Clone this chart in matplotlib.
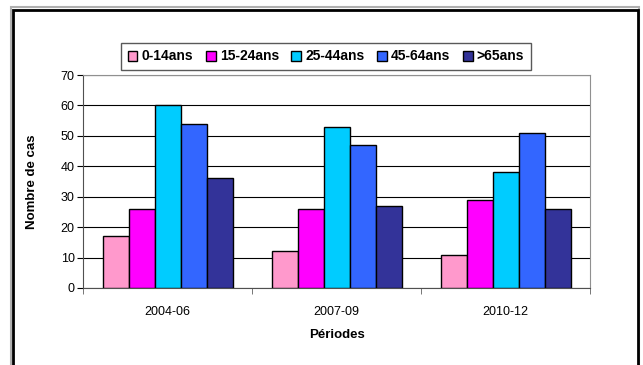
import numpy as np
import matplotlib.pyplot as plt
from matplotlib.patches import Rectangle

plt.rcParams['font.family'] = ['Liberation Sans', 'DejaVu Sans']

# données : nombre de cas par période et tranche d'âge
periodes = ['2004-06', '2007-09', '2010-12']
tranches = ['0-14ans', '15-24ans', '25-44ans', '45-64ans', '>65ans']
cas_0_14 = [17, 12, 11]
cas_15_24 = [26, 26, 29]
cas_25_44 = [60, 53, 38]
cas_45_64 = [54, 47, 51]
cas_65 = [36, 27, 26]
series = [cas_0_14, cas_15_24, cas_25_44, cas_45_64, cas_65]
couleurs = ['#FF99CC', '#FF00FF', '#00CCFF', '#3366FF', '#333399']

fig = plt.figure(figsize=(6.43, 3.65), dpi=100)

# cadre extérieur du graphique
fig.patches.append(Rectangle((11 / 643, -0.05), 628 / 643, 1 - 7 / 365 + 0.05,
                             transform=fig.transFigure, fill=False,
                             edgecolor='#B0B0B0', lw=1.5, zorder=0))
fig.patches.append(Rectangle((13 / 643, -0.05), 625 / 643, 1 - 9.5 / 365 + 0.05,
                             transform=fig.transFigure, fill=False,
                             edgecolor='black', lw=2, zorder=1))

ax = fig.add_axes([83 / 643, 1 - 288 / 365, 507 / 643, 213 / 365])

x = np.arange(len(periodes))
w = 1 / 6.5
for i, (vals, c, lab) in enumerate(zip(series, couleurs, tranches)):
    ax.bar(x + (i - 2) * w, vals, w, color=c, edgecolor='black', lw=1,
           label=lab, zorder=3)

ax.set_xlim(-0.5, 2.5)
ax.set_ylim(0, 70)
ax.set_yticks(range(0, 71, 10))
ax.yaxis.grid(True, color='black', lw=0.8)
ax.set_axisbelow(True)

ax.set_xticks(x)
ax.set_xticklabels(periodes, fontsize=9)
ax.set_xticks([-0.5, 0.5, 1.5, 2.5], minor=True)
ax.tick_params(axis='x', which='major', length=0, pad=13)
ax.tick_params(axis='x', which='minor', length=4, color='#606060', direction='out')
ax.tick_params(axis='y', length=4, labelsize=9, pad=2)

for s in ['top', 'right']:
    ax.spines[s].set_color('#909090')
for s in ['left', 'bottom']:
    ax.spines[s].set_color('#505050')

ax.set_xlabel('Périodes', fontsize=9.5, fontweight='bold', labelpad=8)
ax.set_ylabel('Nombre de cas', fontsize=9.5, fontweight='bold', labelpad=16)

leg = fig.legend(loc='center', bbox_to_anchor=(326 / 643, 1 - 56.5 / 365),
                 ncol=5, frameon=True, fancybox=False, shadow=False,
                 handlelength=0.7, handleheight=0.7, handletextpad=0.3,
                 columnspacing=0.9, borderpad=0.5,
                 prop={'weight': 'bold', 'size': 10})
leg.get_frame().set_edgecolor('#303030')
leg.get_frame().set_linewidth(1)

fig.savefig('out.png', dpi=100)
